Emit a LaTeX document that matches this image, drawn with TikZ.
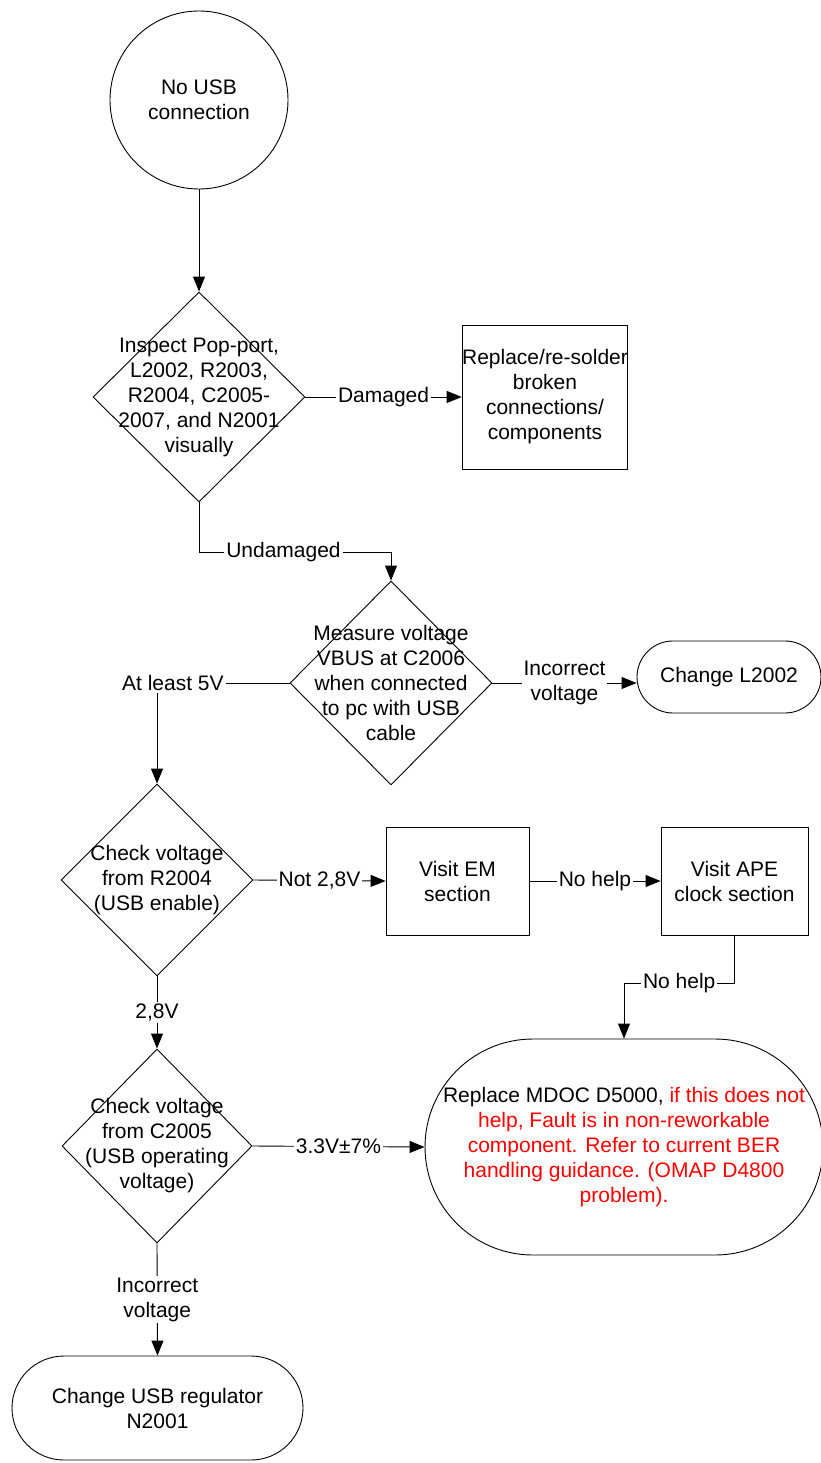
\documentclass[tikz,border=0pt]{standalone}
\usepackage{fontspec}
\setmainfont{Liberation Sans}
\usetikzlibrary{shapes.geometric,shapes.misc,arrows.meta}

\newcommand{\chartfont}{\fontsize{21}{25}\selectfont}

\begin{document}
\begin{tikzpicture}[
  x=1pt, y=1pt,
  base/.style={draw, line width=0.9pt, inner sep=0pt, font=\chartfont, align=center},
  startnode/.style={base, circle, minimum size=178pt},
  decision/.style={base, diamond},
  procbox/.style={base, rectangle},
  endnode/.style={base, rounded rectangle},
  dtext/.style={font=\chartfont, align=center, inner sep=0pt},
  lab/.style={font=\chartfont, align=center, fill=white, inner sep=2pt},
  arrow/.style={-{Triangle[length=15pt, width=12pt]}, line width=0.9pt},
]
\useasboundingbox (0,0) rectangle (821,-1463);

% === NODES ===
\node[startnode] (nousb) at (199,-100) {No USB\\connection};

\node[decision, minimum width=212pt, minimum height=210pt,
  label={[dtext]center:Inspect Pop-port,\\L2002, R2003,\\R2004, C2005-\\2007, and N2001\\visually}]
  (inspect) at (199,-397) {};
\node[procbox, minimum width=164pt, minimum height=144pt] (resolder) at (545,-397)
  {Replace/re-solder\\broken\\connections/\\components};

\node[decision, minimum width=202pt, minimum height=204pt,
  label={[dtext]center:Measure voltage\\VBUS at C2006\\when connected\\to pc with USB\\cable}]
  (vbus) at (391,-683) {};
\node[endnode, minimum width=184pt, minimum height=72pt] (chl) at (729,-677) {Change L2002};

\node[decision, minimum width=192pt, minimum height=192pt,
  label={[dtext]center:Check voltage\\from R2004\\(USB enable)}]
  (enable) at (157,-880) {};
\node[procbox, minimum width=143pt, minimum height=108pt] (em) at (457.5,-881) {Visit EM\\section};
\node[procbox, minimum width=147pt, minimum height=108pt] (ape) at (734.5,-881) {Visit APE\\clock section};

\node[decision, minimum width=190pt, minimum height=194pt,
  label={[dtext]center:Check voltage\\from C2005\\(USB operating\\voltage)}]
  (oper) at (157,-1146) {};
\node[endnode, minimum width=394pt, minimum height=216pt] (mdoc) at (624,-1147)
  {Replace MDOC D5000, \textcolor{red}{if this does not}\\
   \textcolor{red}{help, Fault is in non-reworkable}\\
   \textcolor{red}{component. Refer to current BER}\\
   \textcolor{red}{handling guidance. (OMAP D4800}\\
   \textcolor{red}{problem).}};
\node[endnode, minimum width=291pt, minimum height=104pt] (regul) at (157.5,-1408)
  {Change USB regulator\\N2001};

% === CONNECTORS ===
\draw[arrow] (nousb) -- (inspect.north);
\draw[arrow] (inspect.east) -- node[lab] {Damaged} (resolder.west);
\draw[arrow] (inspect.south) -- ++(0,-50) -| node[lab, pos=0.22] {Undamaged} (vbus.north);
\draw[arrow] (vbus.west) -| node[lab, pos=0.44] {At least 5V} (enable.north);
\draw[arrow] (vbus.east) -- node[lab] {Incorrect\\voltage} (vbus.east -| chl.west);
\draw[arrow] (enable.east) -- node[lab] {Not 2,8V} (em.west);
\draw[arrow] (em.east) -- node[lab] {No help} (ape.west);
\draw[arrow] (ape.south) -- ++(0,-48) -| node[lab, pos=0.25] {No help} (mdoc.north);
\draw[arrow] (enable.south) -- node[lab] {2,8V} (oper.north);
\draw[arrow] (oper.east) -- node[lab] {3.3V±7\%} (mdoc.west);
\draw[arrow] (oper.south) -- node[lab] {Incorrect\\voltage} (regul.north);
\end{tikzpicture}
\end{document}
